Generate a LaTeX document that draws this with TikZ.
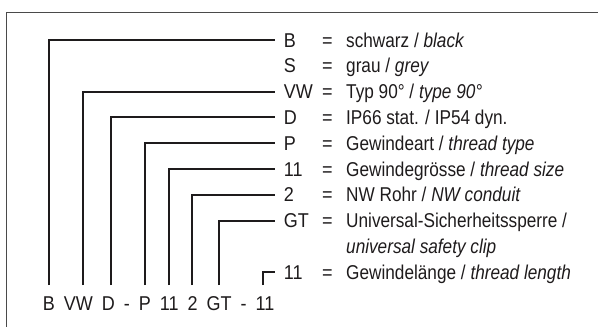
\documentclass[tikz,border=0pt]{standalone}
\usepackage{fontspec}
\setmainfont{Liberation Sans}
\newfontfamily\descfont[FakeStretch=0.86]{Liberation Sans}
\newfontfamily\codefont[FakeStretch=0.9]{Liberation Sans}
\definecolor{ink}{HTML}{1E1B1C}
\definecolor{frame}{HTML}{4A4A4A}
\begin{document}
\begin{tikzpicture}[x=1pt,y=-1pt,
  lead/.style={line width=2pt, draw=ink},
  codelbl/.style={anchor=west, inner xsep=8.7pt, inner ysep=0pt, text height=14.3pt, text depth=0pt, font=\codefont\fontsize{20}{24}\selectfont, text=ink},
  eqsign/.style={anchor=base west, inner sep=0pt, font=\codefont\fontsize{20}{24}\selectfont, text=ink},
  desc/.style={anchor=base west, inner sep=0pt, font=\descfont\fontsize{20}{24}\selectfont, text=ink},
  part/.style={anchor=base west, inner sep=0pt, font=\codefont\fontsize{20}{24}\selectfont, text=ink},
  nextpart/.style={part, at={([xshift=8.6pt]#1.base east)}}]
\useasboundingbox (0,0) rectangle (598,327);
% frame
\draw[frame, line width=1pt] (6.5,327) -- (6.5,12) -- (598,12);
% right column: code labels
\node[codelbl] (kB)  at (275,40)    {B};
\node[codelbl] (kS)  at (275,65.8)  {S};
\node[codelbl] (kVW) at (275,91.6)  {VW};
\node[codelbl] (kD)  at (275,117.4) {D};
\node[codelbl] (kP)  at (275,143.2) {P};
\node[codelbl] (kGs) at (275,169.0) {11};
\node[codelbl] (kNW) at (275,194.8) {2};
\node[codelbl] (kGT) at (275,220.6) {GT};
\node[codelbl] (kGl) at (275,272.2) {11};
% equals signs
\foreach \n/\y in {eB/40,eS/65.8,eVW/91.6,eD/117.4,eP/143.2,eGs/169.0,eNW/194.8,eGT/220.6,eGl/272.2}
  \node[eqsign] (\n) at (322,\y+7.15) {=};
% descriptions
\node[desc] (dB)  at (346,47.15)  {schwarz / \textit{black}};
\node[desc] (dS)  at (346,72.95)  {grau / \textit{grey}};
\node[desc] (dVW) at (346,98.75)  {Typ 90° / \textit{type 90°}};
\node[desc] (dD)  at (346,124.55) {IP66 stat. / IP54 dyn.};
\node[desc] (dP)  at (346,150.35) {Gewindeart / \textit{thread type}};
\node[desc] (dGs) at (346,176.15) {Gewindegrösse / \textit{thread size}};
\node[desc] (dNW) at (346,201.95) {NW Rohr / \textit{NW conduit}};
\node[desc] (dGT) at (346,227.75) {Universal-Sicherheitssperre /};
\node[desc] (dGT2) at (346,253.55) {\textit{universal safety clip}};
\node[desc] (dGl) at (346,279.35) {Gewindelänge / \textit{thread length}};
% bottom code string
\node[part] (pB) at (42.7,310) {B};
\node[nextpart=pB]  (pVW) {VW};
\node[nextpart=pVW] (pD)  {D};
\node[nextpart=pD]  (pm1) {-};
\node[nextpart=pm1] (pP)  {P};
\node[nextpart=pP]  (pGs) {11};
\node[nextpart=pGs] (pNW) {2};
\node[nextpart=pNW] (pGT) {GT};
\node[nextpart=pGT] (pm2) {-};
\node[nextpart=pm2] (pGl) {11};
% connector starts above the code string
\coordinate (bB)  at (49.3,285);
\coordinate (bVW) at (82.7,285);
\coordinate (bD)  at (110.7,285);
\coordinate (bP)  at (145,285);
\coordinate (bGs) at (169.3,285);
\coordinate (bNW) at (192,285);
\coordinate (bGT) at (219,285);
\coordinate (bGl) at (263.3,285);
% connectors
\draw[lead] (bB)  |- (kB.west);
\draw[lead] (bVW) |- (kVW.west);
\draw[lead] (bD)  |- (kD.west);
\draw[lead] (bP)  |- (kP.west);
\draw[lead] (bGs) |- (kGs.west);
\draw[lead] (bNW) |- (kNW.west);
\draw[lead] (bGT) |- (kGT.west);
\draw[lead] (bGl) |- (kGl.west);
\end{tikzpicture}
\end{document}
